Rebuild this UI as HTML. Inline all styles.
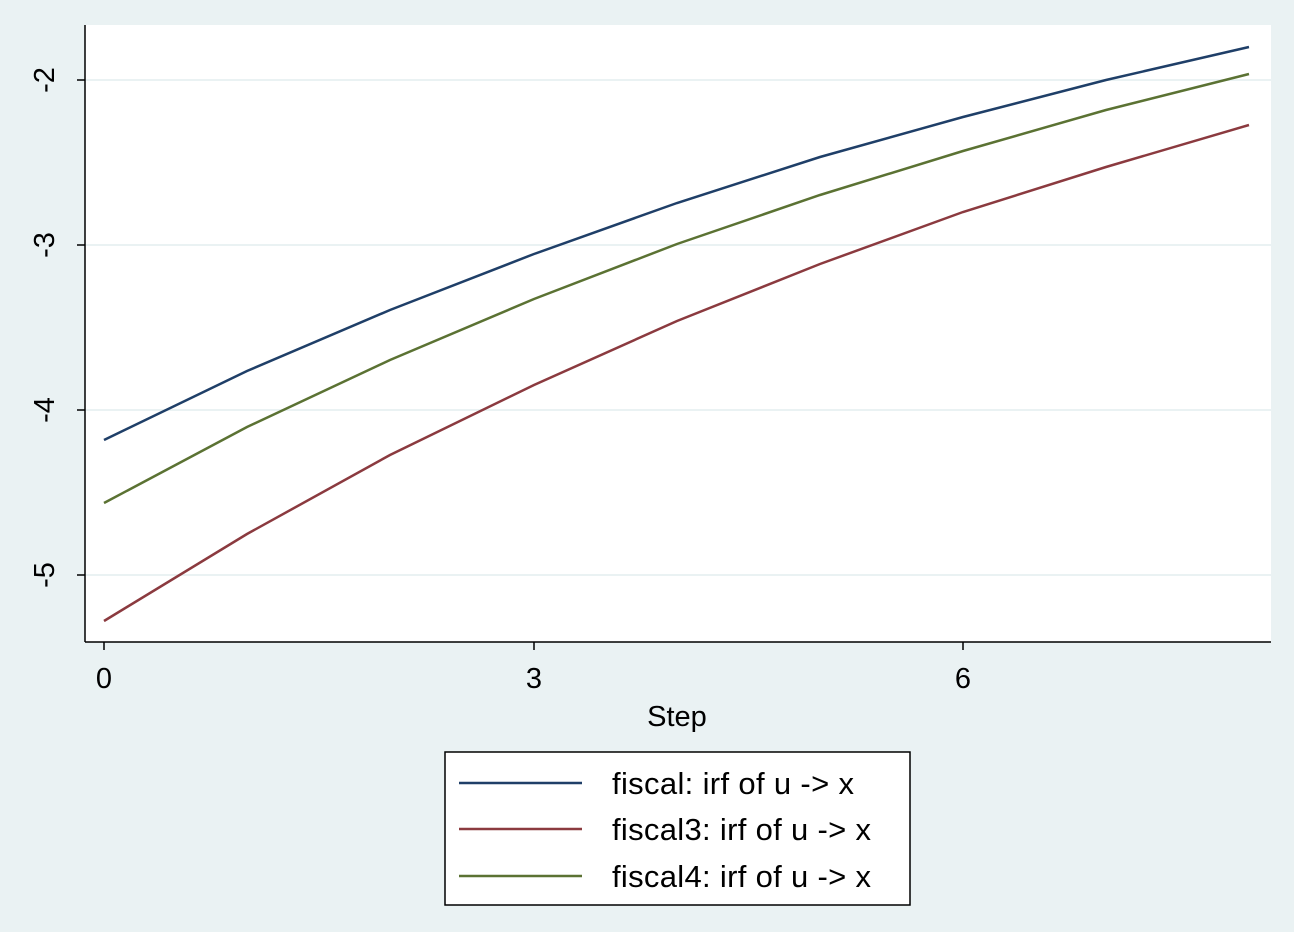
<!DOCTYPE html>
<html><head><style>body{margin:0;background:#eaf2f3}svg{display:block}</style></head><body>
<svg width="1294" height="932" xmlns="http://www.w3.org/2000/svg" font-family="Liberation Sans, sans-serif">
<rect width="1294" height="932" fill="#eaf2f3"/>
<rect x="85" y="25" width="1186" height="617" fill="#fff"/>
<g stroke="#eaf2f3" stroke-width="2">
<line x1="85" y1="80" x2="1271" y2="80"/><line x1="85" y1="245" x2="1271" y2="245"/>
<line x1="85" y1="410" x2="1271" y2="410"/><line x1="85" y1="575" x2="1271" y2="575"/>
</g>
<g stroke="#000" stroke-width="1.5">
<line x1="85" y1="25" x2="85" y2="642"/><line x1="85" y1="642" x2="1271" y2="642"/>
<line x1="77" y1="80" x2="85" y2="80"/><line x1="77" y1="245" x2="85" y2="245"/>
<line x1="77" y1="410" x2="85" y2="410"/><line x1="77" y1="575" x2="85" y2="575"/>
<line x1="104" y1="642" x2="104" y2="650"/><line x1="534" y1="642" x2="534" y2="650"/><line x1="963" y1="642" x2="963" y2="650"/>
</g>
<g font-size="29" text-anchor="middle">
<text transform="translate(54,80) rotate(-90)">-2</text>
<text transform="translate(54,245) rotate(-90)">-3</text>
<text transform="translate(54,410) rotate(-90)">-4</text>
<text transform="translate(54,575) rotate(-90)">-5</text>
<text x="104" y="688">0</text><text x="534" y="688">3</text><text x="963" y="688">6</text>
<text x="677" y="726">Step</text>
</g>
<g fill="none" stroke-width="2.5">
<polyline stroke="#1f3f68" points="104,440 247,371 390,310 534,254 677,203 820,157 963,117 1106,80 1249,47"/>
<polyline stroke="#8b3a3f" points="104,621 247,534 390,455 534,385 677,321 820,264 963,212 1106,167 1249,125"/>
<polyline stroke="#5b7233" points="104,503 247,427 390,360 534,299 677,244 820,195 963,151 1106,110 1249,74"/>
</g>
<rect x="445" y="752" width="465" height="153" fill="#fff" stroke="#000" stroke-width="1.5"/>
<g stroke-width="2.5">
<line x1="459" y1="783" x2="582" y2="783" stroke="#1f3f68"/>
<line x1="459" y1="829" x2="582" y2="829" stroke="#8b3a3f"/>
<line x1="459" y1="876" x2="582" y2="876" stroke="#5b7233"/>
</g>
<g font-size="31">
<text x="612" y="794" textLength="242" lengthAdjust="spacing">fiscal: irf of u -&gt; x</text>
<text x="612" y="840" textLength="259" lengthAdjust="spacing">fiscal3: irf of u -&gt; x</text>
<text x="612" y="887" textLength="259" lengthAdjust="spacing">fiscal4: irf of u -&gt; x</text>
</g>
</svg>
</body></html>
